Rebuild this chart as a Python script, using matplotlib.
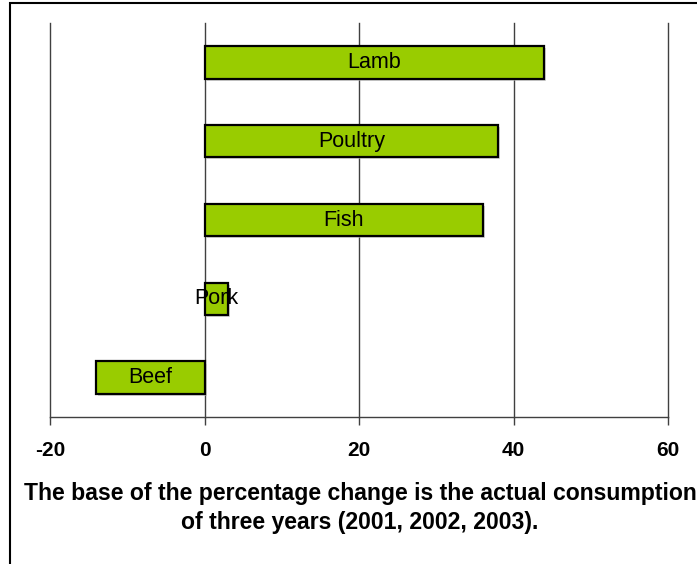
import matplotlib
matplotlib.use("Agg")
import matplotlib.pyplot as plt
from matplotlib import patheffects as pe
from matplotlib.patches import Rectangle

plt.rcParams['font.family'] = ['Liberation Sans', 'DejaVu Sans']

categories = ["Beef", "Pork", "Fish", "Poultry", "Lamb"]
changes = [-14, 3, 36, 38, 44]
xticks = [-20, 0, 20, 40, 60]
caption = ("The base of the percentage change is the actual consumption\n"
           "of three years (2001, 2002, 2003).")

W, H = 697, 564
fig = plt.figure(figsize=(W / 100, H / 100), dpi=100)
ax = fig.add_axes([50 / W, (H - 417) / H, (668 - 50) / W, (417 - 23) / H])

bars = ax.barh(range(len(categories)), changes, height=0.41,
               color="#99CC00", edgecolor="black", linewidth=1.6, zorder=3)
for b in bars:
    b.set_path_effects([pe.SimplePatchShadow(offset=(1.5, -1.5), shadow_rgbFace="#bbbbbb", alpha=0.6),
                        pe.Normal()])

for i, (cat, val) in enumerate(zip(categories, changes)):
    ax.text(val / 2, i, cat, ha="center", va="center", fontsize=15.5, zorder=4)

ax.set_xlim(-20, 60)
ax.set_ylim(-0.5, len(categories) - 0.5)
ax.set_xticks(xticks)
ax.set_xticklabels([str(t) for t in xticks], fontsize=15, fontweight="bold")
ax.set_yticks([])
for t in xticks:
    ax.axvline(t, color="#404040", linewidth=1.0, zorder=0, clip_on=False)
for s in ("left", "right", "top"):
    ax.spines[s].set_visible(False)
ax.spines["bottom"].set_color("#404040")
ax.spines["bottom"].set_linewidth(1.0)
ax.tick_params(axis="x", direction="out", length=6, width=1.0, color="#404040", pad=11)

fig.text(360 / W, 1 - 508 / H, caption, ha="center", va="center", fontsize=16.6,
         fontweight="bold", linespacing=1.38)

fig.patches.append(Rectangle((10 / W, -0.05), 1.2, 1 - 3 / H + 0.05, transform=fig.transFigure,
                             fill=False, edgecolor="black", linewidth=1.5))

fig.savefig("out.png", dpi=100)
